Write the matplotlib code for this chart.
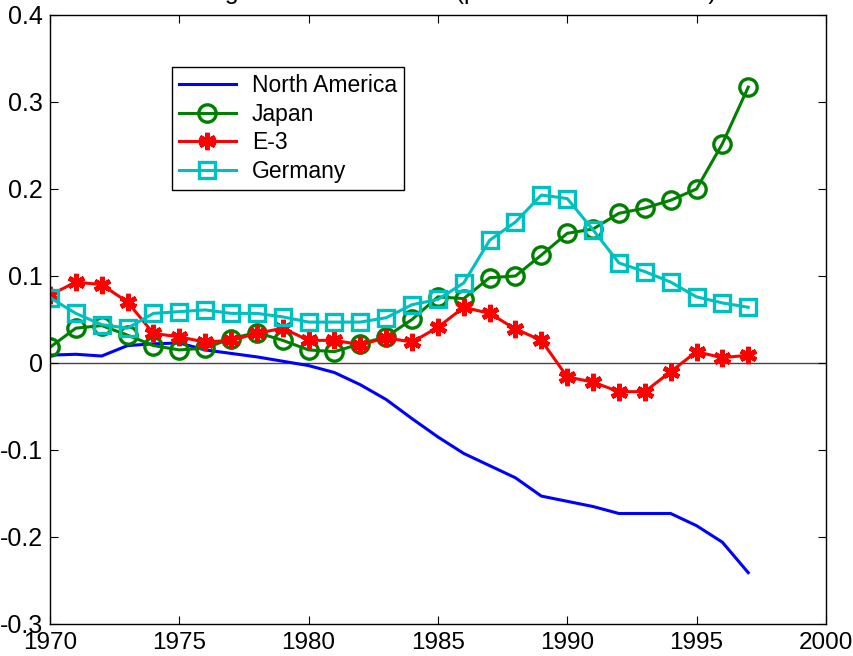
"""
Market share changes by region, 1970-1997.

Plots the change in share for North America, Japan, the E-3 group and Germany
on one set of axes with a zero reference line, in the usual MATLAB-like style.
"""

import matplotlib
matplotlib.use('Agg')
import matplotlib.pyplot as plt
import numpy as np

years = np.arange(1970, 1998)

north_america = [0.009, 0.010, 0.008, 0.020, 0.022, 0.023, 0.015, 0.011, 0.007, 0.002,
                 -0.003, -0.011, -0.025, -0.042, -0.064, -0.085, -0.104, -0.118, -0.132, -0.153,
                 -0.159, -0.165, -0.173, -0.173, -0.173, -0.187, -0.206, -0.241]
japan = [0.018, 0.040, 0.043, 0.032, 0.020, 0.015, 0.017, 0.028, 0.035, 0.026,
         0.015, 0.013, 0.022, 0.030, 0.050, 0.076, 0.074, 0.098, 0.100, 0.124,
         0.149, 0.154, 0.172, 0.178, 0.187, 0.200, 0.252, 0.317]
e3 = [0.078, 0.093, 0.090, 0.070, 0.034, 0.030, 0.024, 0.026, 0.034, 0.040,
      0.026, 0.026, 0.021, 0.029, 0.024, 0.041, 0.064, 0.057, 0.039, 0.026,
      -0.016, -0.022, -0.033, -0.033, -0.010, 0.013, 0.006, 0.009]
germany = [0.075, 0.057, 0.044, 0.040, 0.057, 0.059, 0.061, 0.057, 0.057, 0.053,
           0.047, 0.047, 0.047, 0.052, 0.067, 0.073, 0.092, 0.141, 0.162, 0.193,
           0.189, 0.153, 0.115, 0.105, 0.093, 0.076, 0.069, 0.064]

title = 'Change in Market Shares (percent of world totals)'
xticks = np.arange(1970, 2001, 5)
yticks = np.round(np.arange(-0.3, 0.41, 0.1), 1)


def tick_text(v):
    """MATLAB style tick text: 0 instead of 0.0."""
    return '0' if v == 0 else f'{v:g}'


def plot_shares(outfile='out.png'):
    """Draw the four share series and save the figure."""
    # Narrow sans for the tick numbers, falls back to the regular one if missing.
    tick_font = ['Liberation Sans Narrow', 'Liberation Sans', 'DejaVu Sans']
    plt.rc('font', family=['Liberation Sans', 'DejaVu Sans'], size=16.5)
    plt.rc('xtick', direction='in')
    plt.rc('ytick', direction='in')
    plt.rc('legend', fontsize=16.5)

    fig = plt.figure(figsize=[8.54, 6.56], dpi=100)
    ax = fig.add_axes([0.0585, 0.0488, 0.9085, 0.9284])

    ax.axhline(0, color='#444444', lw=1.0, zorder=1)
    ax.plot(years, north_america, '-', color=(0, 0, 1), lw=2.2, label='North America')
    ax.plot(years, japan, '-o', color=(0, 0.5, 0), lw=2.2, ms=12.5, mfc='none', mew=2.4,
            label='Japan')
    ax.plot(years, e3, '-', marker=(6, 2, 0), color=(1, 0, 0), lw=2.2, ms=12.5, mew=3.4,
            label='E-3')
    ax.plot(years, germany, '-s', color=(0, 0.75, 0.75), lw=2.2, ms=12, mfc='none', mew=2.4,
            label='Germany')

    ax.set_xlim([1970, 2000])
    ax.set_ylim([-0.3, 0.4])
    ax.set_xticks(xticks)
    ax.set_xticklabels([str(v) for v in xticks], family=tick_font, fontsize=17.5)
    ax.set_yticks(yticks)
    ax.set_yticklabels([tick_text(v) for v in yticks], family=tick_font, fontsize=18)
    ax.tick_params(top=True, right=True, length=6, width=0.8)
    ax.tick_params(axis='x', pad=6)
    ax.tick_params(axis='y', pad=5)
    for spine in ax.spines.values():
        spine.set_linewidth(1.0)

    leg = ax.legend(loc='upper left', bbox_to_anchor=[0.157, 0.9146], borderaxespad=0,
                    fancybox=False, edgecolor='black', framealpha=1.0, handlelength=2.5,
                    borderpad=0.3, labelspacing=0.25, handletextpad=0.7)
    leg.get_frame().set_linewidth(1.0)

    # title sits above the figure edge, only its descenders show
    fig.text(0.516, 1 + 1.5 / 656, title, ha='center', va='baseline', fontsize=18)

    fig.savefig(outfile, dpi=100)
    print(f'plot created at: {outfile}')


if __name__ == '__main__':
    plot_shares()
